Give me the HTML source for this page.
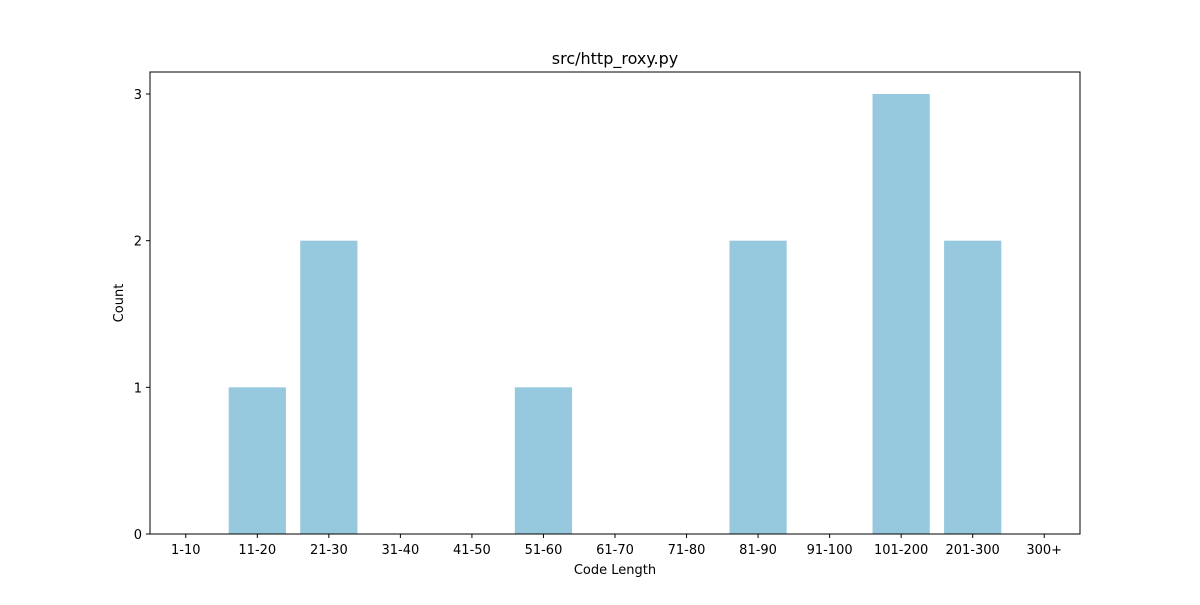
<!DOCTYPE html>
<html><head><meta charset="utf-8"><style>
body{margin:0;background:#fff;}
svg text{font-family:"DejaVu Sans","Liberation Sans",sans-serif;fill:#000;}
</style></head><body>
<svg id="chart" width="1200" height="600" xmlns="http://www.w3.org/2000/svg">
<rect width="1200" height="600" fill="#fff"/>
<text x="615" y="64" font-size="16" text-anchor="middle">src/http_roxy.py</text>
<text x="615" y="574" font-size="13" text-anchor="middle">Code Length</text>
<text x="123" y="303" font-size="13" text-anchor="middle" transform="rotate(-90 123 303)">Count</text>
<g id="bars"></g>
<g id="ticks"></g>
<rect x="150" y="72" width="930" height="462" fill="none" stroke="#000" stroke-width="1"/>
</svg>
<script>
const categories=["1-10","11-20","21-30","31-40","41-50","51-60","61-70","71-80","81-90","91-100","101-200","201-300","300+"];
const counts=[0,1,2,0,0,1,0,0,2,0,3,2,0];
const yTicks=[0,1,2,3];
const L=150,R=1080,T=72,B=534;
const step=(R-L)/categories.length;
const xPos=i=>L+step*(i+0.5);
const yPos=v=>B-v*(B-94)/3;
const NS="http://www.w3.org/2000/svg";
const bars=document.getElementById('bars'),ticks=document.getElementById('ticks');
function mk(tag,attrs,parent){const e=document.createElementNS(NS,tag);for(const k in attrs)e.setAttribute(k,attrs[k]);parent.appendChild(e);return e;}
const bw=step*0.8;
categories.forEach((c,i)=>{
  const v=counts[i];
  const r=mk('rect',{x:xPos(i)-bw/2,y:yPos(v),width:bw,height:B-yPos(v),fill:'#96c9dd'},bars);
  
  
  const t=mk('line',{x1:xPos(i),x2:xPos(i),y1:B,y2:B+4,stroke:'#000'},ticks);
  
  
  const lb=mk('text',{x:xPos(i),y:B+20,'font-size':13,'text-anchor':'middle'},ticks);
  lb.textContent=c;
  
  
});
yTicks.forEach(v=>{
  const t=mk('line',{x1:L-4,x2:L,y1:yPos(v),y2:yPos(v),stroke:'#000'},ticks);
  
  
  const lb=mk('text',{x:L-8,y:yPos(v)+5,'font-size':13,'text-anchor':'end'},ticks);
  lb.textContent=v;
  
  
});
</script>
</body></html>
